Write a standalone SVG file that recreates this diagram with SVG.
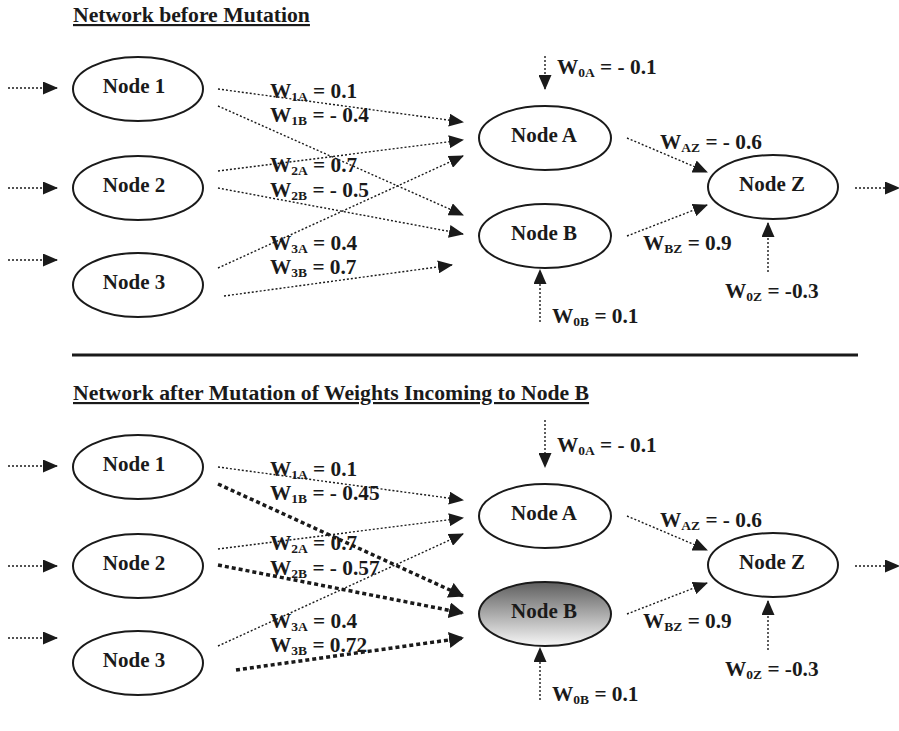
<svg xmlns="http://www.w3.org/2000/svg" width="899" height="731" viewBox="0 0 899 731">
<style>
text{font-family:"Liberation Serif","Times New Roman",serif;font-weight:bold;fill:#1a1a1a}
.title{font-size:21.7px;text-decoration:underline}
.nt{font-size:21px;text-anchor:middle}
.lb{font-size:21.3px}
.sb{font-size:13.5px}
.node{fill:#fff;stroke:#1a1a1a;stroke-width:2}
.dot{fill:none;stroke:#1a1a1a;stroke-width:1.4;stroke-dasharray:2 2;marker-end:url(#ah)}
.thick{fill:none;stroke:#1a1a1a;stroke-width:3.5;stroke-dasharray:4 3;marker-end:url(#ahb)}
</style>
<defs>
<marker id="ah" markerUnits="userSpaceOnUse" markerWidth="15" markerHeight="13" refX="14" refY="6.5" orient="auto" viewBox="0 0 15 13">
<path d="M0,0 L15,6.5 L0,13 z" fill="#1a1a1a"/>
</marker>
<marker id="ahb" markerUnits="userSpaceOnUse" markerWidth="15" markerHeight="16" refX="14" refY="8" orient="auto" viewBox="0 0 15 16">
<path d="M0,0 L15,8 L0,16 z" fill="#1a1a1a"/>
</marker>
<linearGradient id="gB" x1="0" y1="0" x2="0" y2="1">
<stop offset="0" stop-color="#5e5e5e"/>
<stop offset="1" stop-color="#f7f7f7"/>
</linearGradient>
</defs>

<text class="title" x="73" y="22">Network before Mutation</text>
<line x1="72" y1="355" x2="858" y2="355" stroke="#1a1a1a" stroke-width="3"/>
<text class="title" x="73" y="400">Network after Mutation of Weights Incoming to Node B</text>

<g id="connectors">
<line class="dot" x1="8" y1="88" x2="57" y2="88"/>
<line class="dot" x1="8" y1="188" x2="57" y2="188"/>
<line class="dot" x1="8" y1="260" x2="57" y2="260"/>
<line class="dot" x1="218" y1="89" x2="463" y2="122"/>
<line class="dot" x1="218" y1="106" x2="463" y2="215"/>
<line class="dot" x1="218" y1="171" x2="463" y2="140"/>
<line class="dot" x1="218" y1="188" x2="463" y2="234"/>
<line class="dot" x1="218" y1="268" x2="463" y2="156"/>
<line class="dot" x1="224" y1="296" x2="452" y2="265"/>
<line class="dot" x1="545" y1="56" x2="545" y2="89"/>
<line class="dot" x1="627" y1="138" x2="707" y2="172"/>
<line class="dot" x1="627" y1="236" x2="707" y2="205"/>
<line class="dot" x1="768" y1="272" x2="768" y2="223"/>
<line class="dot" x1="540" y1="322" x2="540" y2="270"/>
<line class="dot" x1="855" y1="188" x2="899" y2="188"/>
<line class="dot" x1="8" y1="466" x2="57" y2="466"/>
<line class="dot" x1="8" y1="566" x2="57" y2="566"/>
<line class="dot" x1="8" y1="638" x2="57" y2="638"/>
<line class="dot" x1="218" y1="467" x2="463" y2="500"/>
<line class="thick" x1="218" y1="484" x2="463" y2="596"/>
<line class="dot" x1="218" y1="549" x2="463" y2="518"/>
<line class="thick" x1="218" y1="565" x2="463" y2="613"/>
<line class="dot" x1="218" y1="646" x2="463" y2="534"/>
<line class="thick" x1="236" y1="670" x2="463" y2="638"/>
<line class="dot" x1="545" y1="420" x2="545" y2="467"/>
<line class="dot" x1="627" y1="516" x2="707" y2="550"/>
<line class="dot" x1="627" y1="614" x2="707" y2="583"/>
<line class="dot" x1="768" y1="650" x2="768" y2="601"/>
<line class="dot" x1="540" y1="700" x2="540" y2="648"/>
<line class="dot" x1="855" y1="566" x2="899" y2="566"/>
</g>

<g id="labels-top">
<text class="lb" x="270" y="98">W<tspan class="sb" dy="3">1A</tspan><tspan dy="-3"> = 0.1</tspan></text>
<text class="lb" x="270" y="122">W<tspan class="sb" dy="3">1B</tspan><tspan dy="-3"> = - 0.4</tspan></text>
<text class="lb" x="270" y="172">W<tspan class="sb" dy="3">2A</tspan><tspan dy="-3"> = 0.7</tspan></text>
<text class="lb" x="270" y="197">W<tspan class="sb" dy="3">2B</tspan><tspan dy="-3"> = - 0.5</tspan></text>
<text class="lb" x="270" y="250">W<tspan class="sb" dy="3">3A</tspan><tspan dy="-3"> = 0.4</tspan></text>
<text class="lb" x="270" y="274">W<tspan class="sb" dy="3">3B</tspan><tspan dy="-3"> = 0.7</tspan></text>
<text class="lb" x="557" y="74">W<tspan class="sb" dy="3">0A</tspan><tspan dy="-3"> = - 0.1</tspan></text>
<text class="lb" x="660" y="149">W<tspan class="sb" dy="3">AZ</tspan><tspan dy="-3"> = - 0.6</tspan></text>
<text class="lb" x="643" y="250">W<tspan class="sb" dy="3">BZ</tspan><tspan dy="-3"> = 0.9</tspan></text>
<text class="lb" x="725" y="298">W<tspan class="sb" dy="3">0Z</tspan><tspan dy="-3"> = -0.3</tspan></text>
<text class="lb" x="552" y="323">W<tspan class="sb" dy="3">0B</tspan><tspan dy="-3"> = 0.1</tspan></text>
</g>

<g id="labels-bottom">
<text class="lb" x="270" y="476">W<tspan class="sb" dy="3">1A</tspan><tspan dy="-3"> = 0.1</tspan></text>
<text class="lb" x="270" y="500">W<tspan class="sb" dy="3">1B</tspan><tspan dy="-3"> = - 0.45</tspan></text>
<text class="lb" x="270" y="550">W<tspan class="sb" dy="3">2A</tspan><tspan dy="-3"> = 0.7</tspan></text>
<text class="lb" x="270" y="575">W<tspan class="sb" dy="3">2B</tspan><tspan dy="-3"> = - 0.57</tspan></text>
<text class="lb" x="270" y="628">W<tspan class="sb" dy="3">3A</tspan><tspan dy="-3"> = 0.4</tspan></text>
<text class="lb" x="270" y="652">W<tspan class="sb" dy="3">3B</tspan><tspan dy="-3"> = 0.72</tspan></text>
<text class="lb" x="557" y="452">W<tspan class="sb" dy="3">0A</tspan><tspan dy="-3"> = - 0.1</tspan></text>
<text class="lb" x="660" y="527">W<tspan class="sb" dy="3">AZ</tspan><tspan dy="-3"> = - 0.6</tspan></text>
<text class="lb" x="643" y="628">W<tspan class="sb" dy="3">BZ</tspan><tspan dy="-3"> = 0.9</tspan></text>
<text class="lb" x="725" y="676">W<tspan class="sb" dy="3">0Z</tspan><tspan dy="-3"> = -0.3</tspan></text>
<text class="lb" x="552" y="701">W<tspan class="sb" dy="3">0B</tspan><tspan dy="-3"> = 0.1</tspan></text>
</g>

<g id="node1-top"><ellipse class="node" cx="138" cy="89" rx="65" ry="32"/><text class="nt" x="134" y="93">Node 1</text></g>
<g id="node2-top"><ellipse class="node" cx="138" cy="188" rx="65" ry="32"/><text class="nt" x="134" y="192">Node 2</text></g>
<g id="node3-top"><ellipse class="node" cx="138" cy="285" rx="65" ry="32"/><text class="nt" x="134" y="289">Node 3</text></g>
<g id="nodeA-top"><ellipse class="node" cx="545" cy="138" rx="66" ry="32"/><text class="nt" x="544" y="142">Node A</text></g>
<g id="nodeB-top"><ellipse class="node" cx="545" cy="236" rx="66" ry="32"/><text class="nt" x="544" y="240">Node B</text></g>
<g id="nodeZ-top"><ellipse class="node" cx="773" cy="187" rx="65" ry="32"/><text class="nt" x="772" y="191">Node Z</text></g>

<g id="node1-bottom"><ellipse class="node" cx="138" cy="467" rx="65" ry="32"/><text class="nt" x="134" y="471">Node 1</text></g>
<g id="node2-bottom"><ellipse class="node" cx="138" cy="566" rx="65" ry="32"/><text class="nt" x="134" y="570">Node 2</text></g>
<g id="node3-bottom"><ellipse class="node" cx="138" cy="663" rx="65" ry="32"/><text class="nt" x="134" y="667">Node 3</text></g>
<g id="nodeA-bottom"><ellipse class="node" cx="545" cy="516" rx="66" ry="32"/><text class="nt" x="544" y="520">Node A</text></g>
<g id="nodeB-bottom"><ellipse class="node" cx="545" cy="614" rx="66" ry="32" style="fill:url(#gB)"/><text class="nt" x="544" y="618">Node B</text></g>
<g id="nodeZ-bottom"><ellipse class="node" cx="773" cy="565" rx="65" ry="32"/><text class="nt" x="772" y="569">Node Z</text></g>
</svg>
